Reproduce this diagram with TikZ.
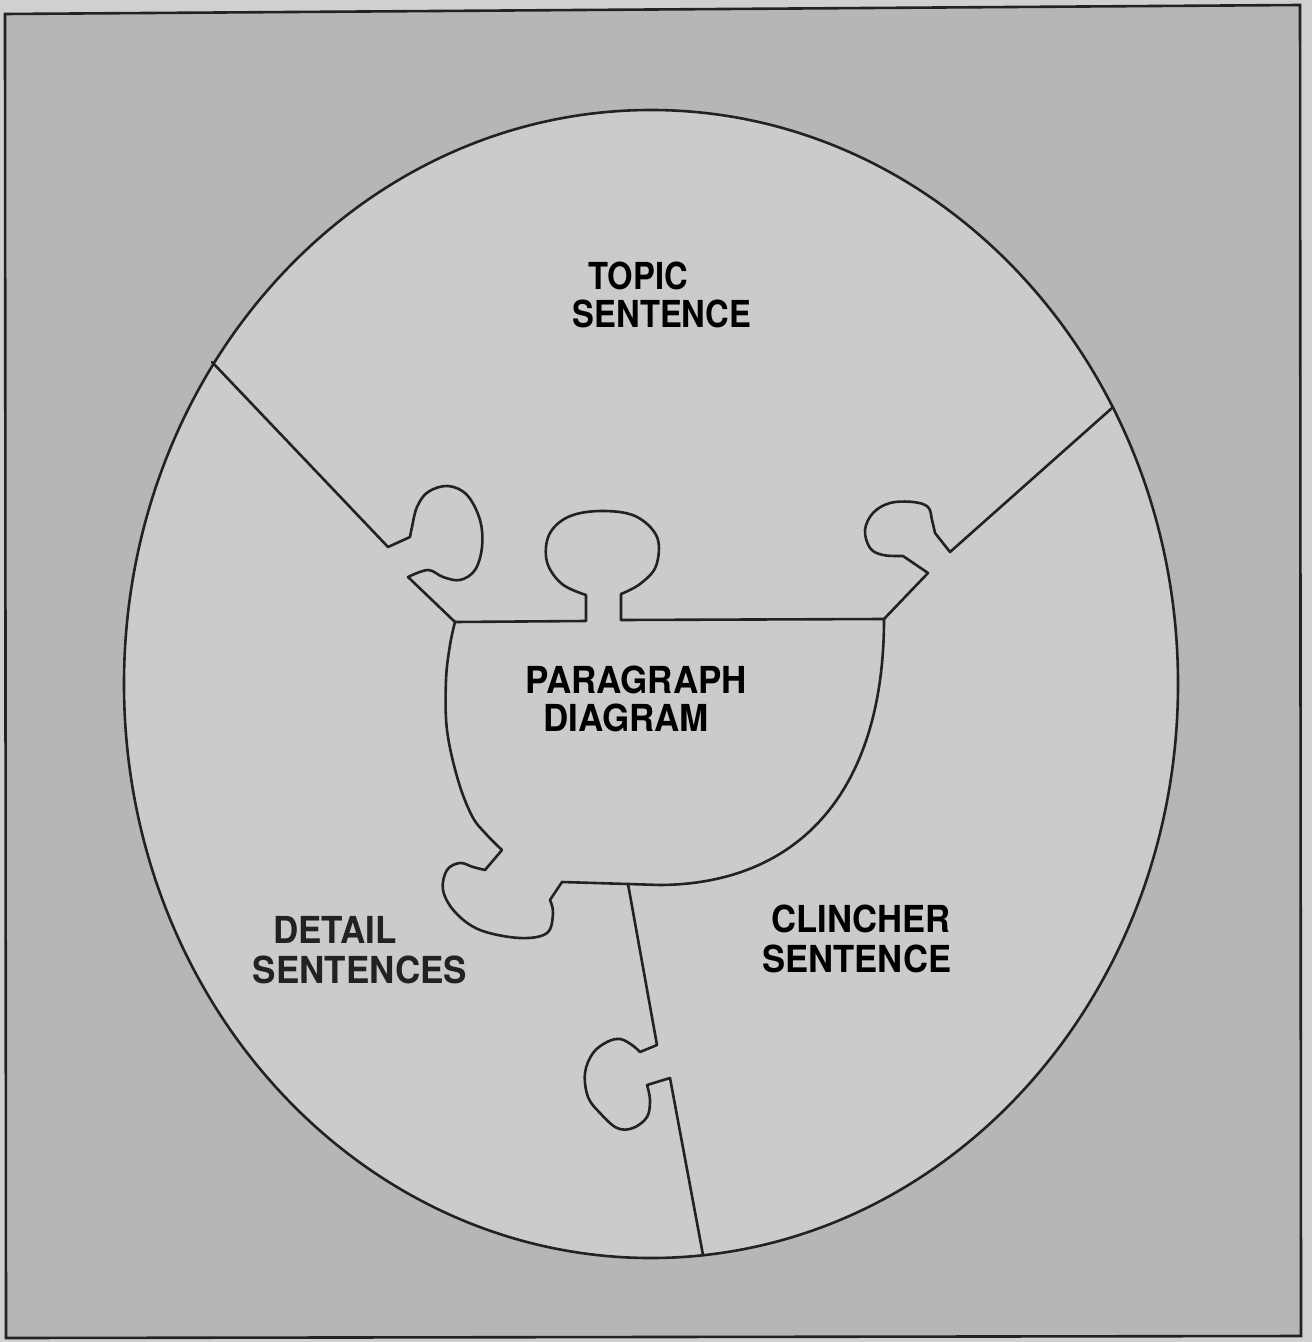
\documentclass[tikz,border=0pt]{standalone}
\usepackage{fontspec}
\newfontfamily\hv{TeX Gyre Heros}
\definecolor{margin}{HTML}{D0D0D0}
\definecolor{frame}{HTML}{B6B6B6}
\definecolor{disc}{HTML}{CBCBCB}
\definecolor{ink}{HTML}{222222}
\tikzset{
  cut/.style={draw=ink, line width=1.3pt, line join=round, line cap=round},
  lab/.style={anchor=base, inner sep=0pt, font=\hv\bfseries\fontsize{18.6pt}{20pt}\selectfont, text=black},
}
\begin{document}
\begin{tikzpicture}[x=0.5pt,y=-0.5pt]
\useasboundingbox (0,0) rectangle (1312,1342);
\fill[margin] (0,0) rectangle (1312,1342);
\filldraw[fill=frame, draw=ink, line width=1.3pt] (5,14) -- (1300,5) -- (1301,1336) -- (6,1338) -- cycle;
\filldraw[fill=disc, draw=ink, line width=1.3pt] (651,684) ellipse [x radius=527, y radius=574];

% left-top cut
\draw[cut] (212,362) -- (388,547) -- (410,537)
  plot[smooth, tension=0.6] coordinates {(410,537) (412,527) (417,507) (428,492) (448,486) (467,495) (480,520) (482,547) (475,570) (460,580) (443,577) (428,570) (408,577)}
  -- (455,622);
% top edge with knob
\draw[cut] (455,622) -- (586,621) -- (586,595)
  plot[smooth, tension=0.6] coordinates {(586,595) (562,584) (547,562) (549,535) (568,517) (600,511) (635,516) (657,537) (656,566) (640,584) (621,594)}
  -- (621,620) -- (884,619);
% right-top cut
\draw[cut] (1112,408) -- (950,552) -- (935,533)
  plot[smooth, tension=0.6] coordinates {(935,533) (932,520) (928,507) (913,502) (890,503) (873,513) (865,530) (870,548) (883,555) (903,556)}
  -- (928,573) -- (884,619);
% paragraph piece: right side and bottom
\draw[cut] (884,619) .. controls (884,790) and (800,884) .. (660,885) -- (628,884) -- (562,882) -- (550,900)
  plot[smooth, tension=0.6] coordinates {(550,900) (553,913) (547,933) (520,938) (480,930) (455,912) (443,890) (447,870) (460,863) (473,867) (485,870)}
  -- (502,850)
  plot[smooth, tension=0.6] coordinates {(502,850) (486,834) (472,816) (458,780) (447,730) (446,680) (450,645) (455,622)};
% bottom cut
\draw[cut] (628,884) -- (657,1045) -- (640,1052)
  plot[smooth, tension=0.6] coordinates {(640,1052) (632,1045) (620,1039) (607,1042) (593,1053) (585,1073) (588,1097) (600,1113) (617,1128) (633,1128) (647,1117) (650,1100) (647,1085)}
  -- (670,1078) -- (703,1255);

% labels
\node[lab, xscale=0.88] (t1) at (638,290) {TOPIC};
\node[lab, xscale=0.88] (t2) at (662,328) {SENTENCE};
\node[lab, xscale=0.94] (p1) at (636,693) {PARAGRAPH};
\node[lab, xscale=0.94] (p2) at (626,731) {DIAGRAM};
\node[lab, xscale=0.94, text=ink] (d1) at (335,943) {DETAIL};
\node[lab, xscale=0.94, text=ink] (d2) at (360,983) {SENTENCES};
\node[lab, xscale=0.93] (c1) at (861,932) {CLINCHER};
\node[lab, xscale=0.93] (c2) at (857,972) {SENTENCE};
\end{tikzpicture}
\end{document}
